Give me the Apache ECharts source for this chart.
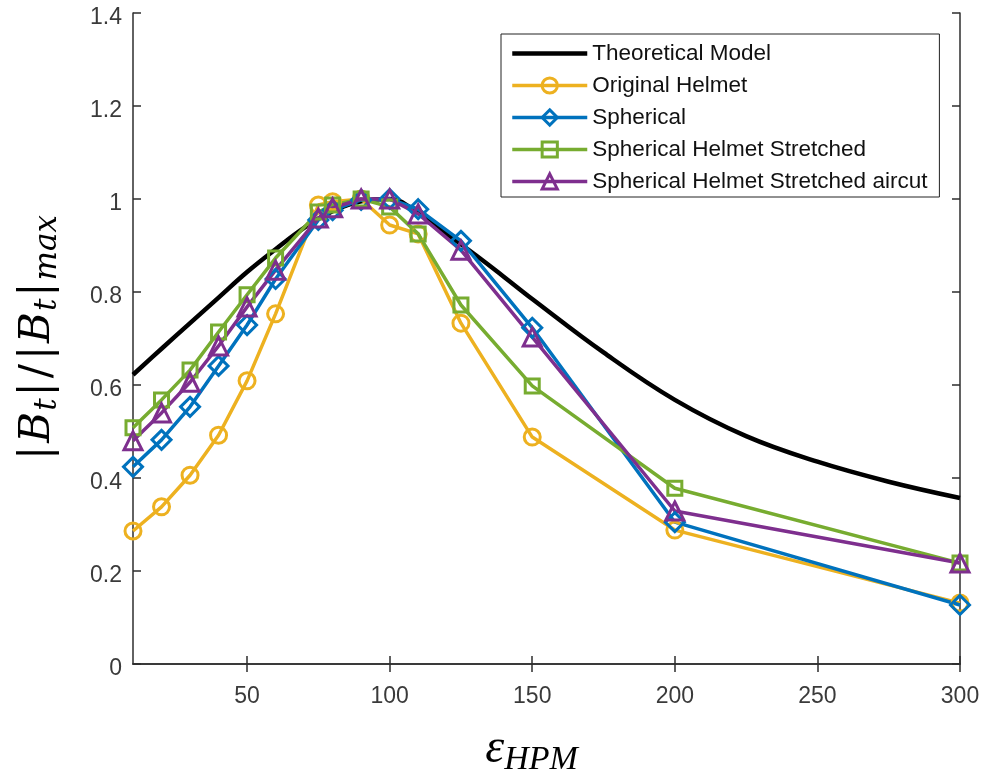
<!DOCTYPE html>
<html>
<head>
<meta charset="utf-8">
<script src="https://cdn.jsdelivr.net/npm/echarts@6/dist/echarts.min.js"></script>
<style>
html,body{margin:0;padding:0;background:#fff;}
#chart{width:984px;height:774px;}
</style>
</head>
<body>
<div id="chart"></div>
<script>
// ---- data ----
const xMeasured = [10, 20, 30, 40, 50, 60, 75, 80, 90, 100, 110, 125, 150, 200, 300];
const originalHelmet = [0.286, 0.338, 0.406, 0.492, 0.609, 0.753, 0.987, 0.994, 1.0, 0.944, 0.925, 0.733, 0.488, 0.288, 0.131];
const spherical = [0.424, 0.482, 0.553, 0.641, 0.729, 0.828, 0.955, 0.976, 0.998, 1.0, 0.978, 0.91, 0.723, 0.305, 0.127];
const sphStretched = [0.508, 0.568, 0.632, 0.714, 0.794, 0.873, 0.972, 0.987, 1.0, 0.983, 0.925, 0.772, 0.598, 0.378, 0.217];
const sphStretchedAircut = [0.48, 0.54, 0.606, 0.684, 0.768, 0.847, 0.959, 0.981, 1.0, 1.0, 0.968, 0.89, 0.703, 0.329, 0.217];

const xTheory = [10, 20, 30, 40, 50, 60, 70, 80, 90, 100, 110, 120, 130, 140, 150, 175, 200, 225, 250, 275, 300];
const theory = [0.622, 0.678, 0.733, 0.788, 0.843, 0.892, 0.938, 0.974, 0.995, 1.0, 0.97, 0.925, 0.88, 0.833, 0.785, 0.67, 0.568, 0.49, 0.435, 0.392, 0.357];

const xTicks = [50, 100, 150, 200, 250, 300];
const seriesNames = ['Theoretical Model', 'Original Helmet', 'Spherical', 'Spherical Helmet Stretched', 'Spherical Helmet Stretched aircut'];

// ---- chart ----
const pair = (xs, ys) => xs.map((x, i) => [x, ys[i]]);
const axisColor = '#2e2e2e';
const labelColor = '#3a3a3a';
const tickFont = 'Liberation Sans, Arial, sans-serif';
const mathFont = 'DejaVu Serif, serif';

function markerSeries(name, data, color, symbol, size) {
  return {
    name: name,
    type: 'line',
    data: pair(xMeasured, data),
    symbol: symbol,
    symbolSize: size,
    showSymbol: true,
    color: color,
    lineStyle: { color: color, width: 3.5 },
    itemStyle: { color: 'rgba(255,255,255,0)', borderColor: color, borderWidth: 3 },
    emphasis: { disabled: true },
    z: 3
  };
}

const chart = echarts.init(document.getElementById('chart'));
chart.setOption({
  animation: false,
  backgroundColor: '#fff',
  grid: { left: 133, right: 24, top: 13, bottom: 110, containLabel: false, outerBoundsMode: 'none' },
  legend: {
    orient: 'vertical',
    left: 501,
    top: 34,
    padding: [8, 12, 4, 9],
    itemWidth: 75,
    itemHeight: 19,
    itemGap: 9,
    backgroundColor: '#fff',
    borderColor: '#222',
    borderWidth: 1,
    borderRadius: 0,
    lineStyle: { width: 3.5 },
    itemStyle: { borderWidth: 3 },
    textStyle: { fontFamily: tickFont, fontSize: 22.5, color: '#111', lineHeight: 19 },
    data: [
      { name: seriesNames[0], itemStyle: { color: 'rgba(0,0,0,0)', borderWidth: 0, opacity: 0 }, lineStyle: { width: 4.5 } },
      seriesNames[1], seriesNames[2], seriesNames[3], seriesNames[4]
    ]
  },
  xAxis: [{
    type: 'value',
    min: 10,
    max: 300,
    position: 'bottom',
    axisLine: { show: true, lineStyle: { color: axisColor, width: 1.5 } },
    axisTick: { show: true, inside: true, length: 8, customValues: xTicks, lineStyle: { color: axisColor, width: 1.5 } },
    axisLabel: { show: true, customValues: xTicks, margin: 21, fontFamily: tickFont, fontSize: 23, color: labelColor },
    splitLine: { show: false },
    name: '{e|ε}{s|HPM}',
    nameLocation: 'middle',
    nameGap: 57,
    nameTextStyle: {
      padding: [0, 30, 0, 0],
      rich: {
        e: { fontFamily: 'Liberation Serif, serif', fontStyle: 'italic', fontSize: 48, lineHeight: 56, verticalAlign: 'middle', color: '#000' },
        s: { fontFamily: 'Liberation Serif, serif', fontStyle: 'italic', fontSize: 34, lineHeight: 34, verticalAlign: 'bottom', color: '#000' }
      }
    }
  }, {
    type: 'value',
    min: 10,
    max: 300,
    position: 'top',
    axisLine: { show: true, lineStyle: { color: axisColor, width: 1.5 } },
    axisTick: { show: true, inside: true, length: 8, customValues: xTicks, lineStyle: { color: axisColor, width: 1.5 } },
    axisLabel: { show: false },
    splitLine: { show: false }
  }],
  yAxis: [{
    type: 'value',
    min: 0,
    max: 1.4,
    interval: 0.2,
    position: 'left',
    axisLine: { show: true, lineStyle: { color: axisColor, width: 1.5 } },
    axisTick: { show: true, inside: true, length: 8, lineStyle: { color: axisColor, width: 1.5 } },
    axisLabel: {
      show: true, margin: 11, color: labelColor,
      formatter: v => '{v|' + String(Math.round(v * 10) / 10) + '}',
      rich: { v: { fontFamily: tickFont, fontSize: 23, color: labelColor, padding: [9, 0, 0, 0] } }
    },
    splitLine: { show: false },
    name: '{p||}{b|B}{s|t}{p||}{p|/}{p||}{b|B}{s|t}{p||}{s|max}',
    nameLocation: 'middle',
    nameRotate: 90,
    nameGap: 70,
    nameTextStyle: {
      rich: {
        p: { fontFamily: mathFont, fontSize: 42, lineHeight: 50, verticalAlign: 'middle', color: '#000', padding: [0, 2, 0, 2] },
        b: { fontFamily: mathFont, fontStyle: 'italic', fontSize: 42, lineHeight: 50, verticalAlign: 'middle', color: '#000', padding: [0, 1, 0, 1] },
        s: { fontFamily: mathFont, fontStyle: 'italic', fontSize: 31, lineHeight: 32, verticalAlign: 'bottom', color: '#000' }
      }
    }
  }, {
    type: 'value',
    min: 0,
    max: 1.4,
    interval: 0.2,
    position: 'right',
    axisLine: { show: true, lineStyle: { color: axisColor, width: 1.5 } },
    axisTick: { show: true, inside: true, length: 8, lineStyle: { color: axisColor, width: 1.5 } },
    axisLabel: { show: false },
    splitLine: { show: false }
  }],
  series: [
    {
      name: seriesNames[0],
      type: 'line',
      data: pair(xTheory, theory),
      smooth: 0.4,
      symbol: 'none',
      color: '#000',
      lineStyle: { color: '#000', width: 4.5 },
      emphasis: { disabled: true },
      z: 2
    },
    markerSeries(seriesNames[1], originalHelmet, '#EDB120', 'circle', 16),
    markerSeries(seriesNames[2], spherical, '#0072BD', 'diamond', 19),
    markerSeries(seriesNames[3], sphStretched, '#77AC30', 'rect', 14),
    markerSeries(seriesNames[4], sphStretchedAircut, '#7E2F8E', 'triangle', 18)
  ]
});
</script>
</body>
</html>
